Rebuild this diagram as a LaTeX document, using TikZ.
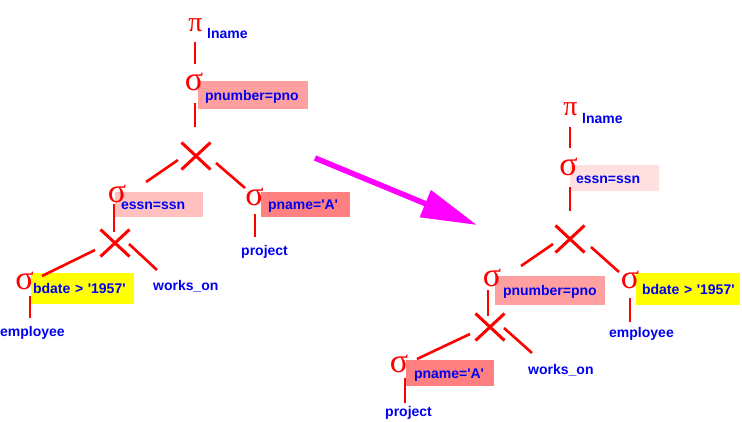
\documentclass[tikz,border=0pt]{standalone}
\usepackage{fontspec}
\setsansfont{Liberation Sans}
\newfontfamily\greekfont{Liberation Serif}
\usetikzlibrary{shapes.misc,arrows.meta,calc}
\definecolor{relblue}{RGB}{0,0,240}
\definecolor{oprred}{RGB}{255,0,0}
\definecolor{condpink}{RGB}{255,160,160}
\definecolor{condlight}{RGB}{255,192,192}
\definecolor{condpale}{RGB}{255,224,224}
\definecolor{conddark}{RGB}{255,128,128}
\definecolor{condyellow}{RGB}{255,255,0}
\definecolor{movemagenta}{RGB}{255,0,255}
\hyphenpenalty=10000
\begin{document}
\begin{tikzpicture}[
    x=1pt, y=-1pt,
    arrowstyle/.style={draw=movemagenta, line width=5.5pt,
        -{Triangle[length=56pt,width=28pt]}},
    treeedge/.style={draw=oprred, line width=2.6pt},
    greekop/.style={text=oprred, inner sep=0pt,
        font=\greekfont\fontsize{28}{30}\selectfont},
    selectop/.style={greekop,
        font=\greekfont\fontsize{34}{36}\selectfont},
    crossop/.style={cross out, draw=oprred, line width=3pt,
        minimum width=26pt, minimum height=24pt, inner sep=0pt},
    condition/.style={rectangle, align=left, inner ysep=0pt,
        text height=11.5pt, text depth=1.5pt, text=relblue,
        font=\sffamily\bfseries\fontsize{14}{16}\selectfont},
    relation/.style={anchor=base west, inner sep=0pt, text=relblue,
        font=\sffamily\bfseries\fontsize{14}{16}\selectfont}
]
\useasboundingbox (0,0) rectangle (742,421);

\node (Cond01) [condition, fill=condpink, minimum height=28pt, inner xsep=7pt, text width=96pt] at (253,95) {pnumber=pno};
\node (Cond02) [condition, fill=condlight, minimum height=25pt, inner xsep=6pt, text width=76pt] at (159,204.5) {essn=ssn};
\node (Cond03) [condition, fill=conddark, minimum height=25pt, inner xsep=7pt, text width=75pt] at (305.5,204.5) {pname=\textquotesingle A\textquotesingle};
\node (Cond04) [condition, fill=condyellow, minimum height=31pt, inner xsep=2pt, text width=99pt] at (82.5,288.5) {bdate~>~\textquotesingle 1957\textquotesingle};

\node (Project01) [greekop] at (195.5,25) {π};
\node (Attr01) [relation] at (207,38) {lname};
\node (Select01) [selectop] at (194,82) {σ};
\node (Cross01) [crossop] at (196,156) {};
\node (Select02) [selectop] at (117,193.5) {σ};
\node (Select03) [selectop] at (254.5,196.5) {σ};
\node (ProjTable01) [relation] at (241,255) {project};
\node (Cross02) [crossop] at (115,243) {};
\node (Select04) [selectop] at (24.5,280.5) {σ};
\node (Works01) [relation] at (153,290) {works\_on};
\node (Employee01) [relation] at (0,336) {employee};

\draw [treeedge] ($(Project01)+(-0.5,17)$) -- ($(Select01)+(1,-18)$);
\draw [treeedge] ($(Select01)+(1,21)$) -- ($(Cross01)+(-1,-29)$);
\draw [treeedge] ($(Cross01)+(-18,4)$) -- ($(Select02)+(29,-11.5)$);
\draw [treeedge] ($(Cross01)+(20,7)$) -- ($(Select03)+(-9.5,-8.5)$);
\draw [treeedge] ($(Select02)+(-3,10.5)$) -- ($(Cross02)+(-1,-11)$);
\draw [treeedge] ($(Cross02)+(-20,7)$) -- ($(Select04)+(17.5,-4.5)$);
\draw [treeedge] ($(Cross02)+(14,1)$) -- ($(Works01.base west)+(4,-20)$);
\draw [treeedge] ($(Select04)+(5.5,15)$) -- ($(Employee01.base west)+(30,-18)$);
\draw [treeedge] ($(Select03)+(0.5,17.5)$) -- ($(ProjTable01.base west)+(14,-18)$);

\coordinate (ArrowTail) at (315,158);
\coordinate (ArrowHead) at (477,225);
\draw [arrowstyle] (ArrowTail) -- (ArrowHead);

\node (Cond05) [condition, fill=condpale, minimum height=26pt, inner xsep=6pt, text width=77pt] at (614.5,178) {essn=ssn};
\node (Cond06) [condition, fill=condpink, minimum height=29pt, inner xsep=8pt, text width=94pt] at (550,290.5) {pnumber=pno};
\node (Cond07) [condition, fill=condyellow, minimum height=32pt, inner xsep=6pt, text width=92pt] at (688,289) {bdate~>~\textquotesingle 1957\textquotesingle};
\node (Cond08) [condition, fill=conddark, minimum height=26pt, inner xsep=8pt, text width=72pt] at (450,373) {pname=\textquotesingle A\textquotesingle};

\node (Project02) [greekop] at (570.5,109.5) {π};
\node (Attr02) [relation] at (582,123) {lname};
\node (Select05) [selectop] at (568.5,166.5) {σ};
\node (Cross03) [crossop] at (570,239) {};
\node (Select06) [selectop] at (492,277.5) {σ};
\node (Select07) [selectop] at (630,280) {σ};
\node (Employee02) [relation] at (609,337) {employee};
\node (Cross04) [crossop] at (490,327) {};
\node (Select08) [selectop] at (399,364) {σ};
\node (Works02) [relation] at (528,374) {works\_on};
\node (ProjTable02) [relation] at (385,416) {project};

\draw [treeedge] ($(Project02)+(-0.5,17.5)$) -- ($(Select05)+(1.5,-18.5)$);
\draw [treeedge] ($(Select05)+(1.5,20.5)$) -- ($(Cross03)+(0,-28)$);
\draw [treeedge] ($(Cross03)+(-17,5)$) -- ($(Select06)+(29,-11.5)$);
\draw [treeedge] ($(Cross03)+(21,8)$) -- ($(Select07)+(-11,-8)$);
\draw [treeedge] ($(Select06)+(-4,12.5)$) -- ($(Cross04)+(-2,-11)$);
\draw [treeedge] ($(Cross04)+(-20,7)$) -- ($(Select08)+(18,-5)$);
\draw [treeedge] ($(Cross04)+(14,1)$) -- ($(Works02.base west)+(4,-21)$);
\draw [treeedge] ($(Select07)+(0,18)$) -- ($(Employee02.base west)+(21,-15)$);
\draw [treeedge] ($(Select08)+(6,14)$) -- ($(ProjTable02.base west)+(20,-13)$);
\end{tikzpicture}
\end{document}
